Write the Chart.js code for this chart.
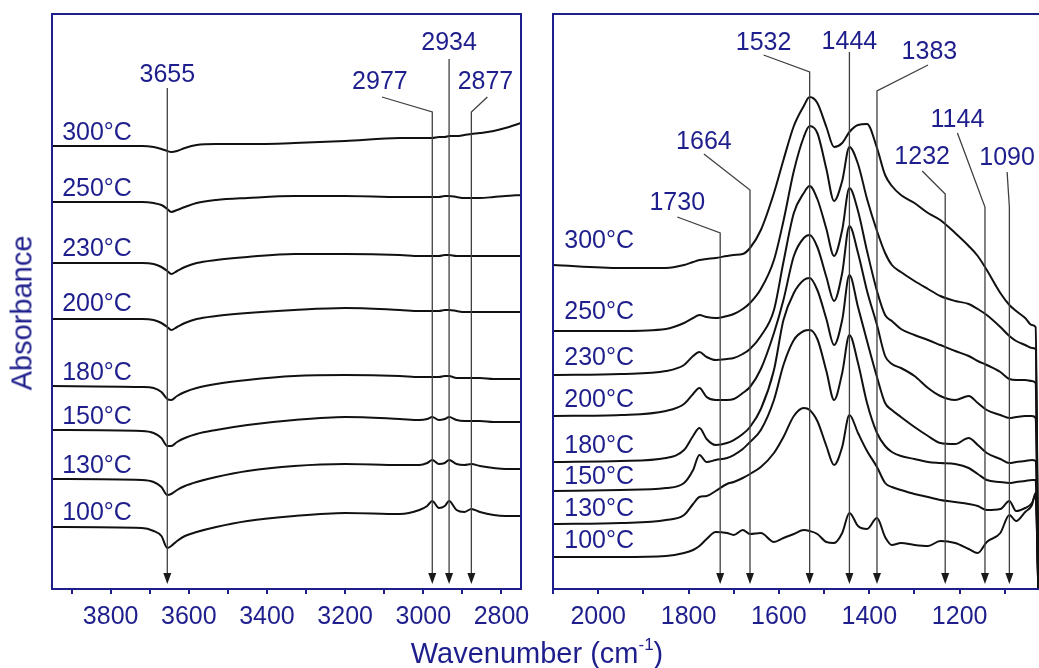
<!DOCTYPE html>
<html>
<head>
<meta charset="utf-8">
<script src="https://cdn.jsdelivr.net/npm/chart.js@4.4.0/dist/chart.umd.min.js"></script>
<style>
  html, body { margin: 0; padding: 0; background: #fff; overflow: hidden; }
  #wrap { position: relative; width: 1039px; height: 668px; overflow: hidden; }
  #left { position: absolute; left: 0; top: 0; }
  #right { position: absolute; left: 545px; top: 0; }
  .axt { position: absolute; color: #1e1e8c; font-family: Arial, "Liberation Sans", sans-serif;
         font-size: 29px; white-space: nowrap; line-height: 1; }
  .axt sup { font-size: 17px; vertical-align: 13px; }
</style>
</head>
<body>
<div id="wrap">
  <canvas id="left" width="545" height="668"></canvas>
  <canvas id="right" width="520" height="668"></canvas>
  <div class="axt" style="left:22px;top:313px;transform:translate(-50%,-50%) rotate(-90deg);">Absorbance</div>
  <div class="axt" style="left:537px;top:652px;transform:translate(-50%,-50%);">Wavenumber (cm<sup>-1</sup>)</div>
</div>
<script>
const NAVY = '#1e1e8c';
const temps = ['300°C', '250°C', '230°C', '200°C', '180°C', '150°C', '130°C', '100°C'];

// ---- left panel: O-H / C-H stretch region ----
const highTicks = [3900, 3800, 3700, 3600, 3500, 3400, 3300, 3200, 3100, 3000, 2900, 2800];
const highWn = [3950, 3720, 3690, 3670, 3655, 3645, 3630, 3610, 3580, 3530, 3450, 3330, 3200,
                3060, 3010, 2990, 2977, 2960, 2945, 2934, 2915, 2895, 2877, 2855, 2820, 2790, 2750];
const high300 = [4.43, 4.43, 4.42, 4.40, 4.38, 4.37, 4.38, 4.41, 4.44, 4.45, 4.45, 4.46, 4.48,
                 4.51, 4.51, 4.51, 4.51, 4.52, 4.52, 4.53, 4.53, 4.54, 4.55, 4.56, 4.58, 4.61, 4.66];
const high250 = [3.87, 3.87, 3.86, 3.84, 3.80, 3.77, 3.79, 3.82, 3.86, 3.89, 3.91, 3.93, 3.93,
                 3.92, 3.92, 3.92, 3.92, 3.92, 3.93, 3.93, 3.92, 3.91, 3.91, 3.91, 3.92, 3.93, 3.94];
const high230 = [3.26, 3.26, 3.25, 3.22, 3.18, 3.15, 3.18, 3.22, 3.26, 3.29, 3.32, 3.35, 3.35,
                 3.34, 3.33, 3.33, 3.33, 3.33, 3.34, 3.34, 3.33, 3.33, 3.33, 3.33, 3.33, 3.33, 3.33];
const high200 = [2.70, 2.70, 2.69, 2.66, 2.62, 2.59, 2.62, 2.66, 2.70, 2.73, 2.76, 2.79, 2.81,
                 2.79, 2.78, 2.78, 2.78, 2.78, 2.79, 2.79, 2.78, 2.77, 2.77, 2.77, 2.77, 2.77, 2.77];
const high180 = [2.03, 2.02, 2.01, 1.97, 1.90, 1.89, 1.93, 1.97, 2.01, 2.05, 2.09, 2.13, 2.14,
                 2.13, 2.12, 2.12, 2.12, 2.12, 2.13, 2.13, 2.11, 2.11, 2.11, 2.11, 2.10, 2.10, 2.10];
const high150 = [1.59, 1.58, 1.56, 1.51, 1.43, 1.43, 1.47, 1.51, 1.55, 1.59, 1.64, 1.69, 1.72,
                 1.70, 1.69, 1.70, 1.72, 1.69, 1.70, 1.72, 1.69, 1.68, 1.68, 1.68, 1.67, 1.67, 1.67];
const high130 = [1.10, 1.09, 1.07, 1.02, 0.94, 0.95, 0.99, 1.03, 1.07, 1.12, 1.18, 1.23, 1.25,
                 1.24, 1.24, 1.26, 1.29, 1.25, 1.26, 1.29, 1.25, 1.24, 1.25, 1.23, 1.21, 1.20, 1.20];
const high100 = [0.62, 0.61, 0.58, 0.53, 0.41, 0.43, 0.48, 0.53, 0.57, 0.62, 0.68, 0.73, 0.76,
                 0.75, 0.79, 0.83, 0.88, 0.81, 0.83, 0.88, 0.79, 0.77, 0.80, 0.77, 0.74, 0.73, 0.73];
const highSeries = [high300, high250, high230, high200, high180, high150, high130, high100];
const highPeaks = [3655, 2977, 2934, 2877];

// ---- right panel: fingerprint region ----
const lowTicks = [2100, 2000, 1900, 1800, 1700, 1600, 1500, 1400, 1300, 1200, 1100];
const lowWn = [2100, 1950, 1850, 1810, 1790, 1776, 1760, 1740, 1715, 1700, 1680, 1664, 1640, 1611,
               1590, 1567, 1545, 1532, 1515, 1495, 1478, 1460, 1444, 1425, 1405, 1383, 1365, 1350,
               1330, 1300, 1270, 1243, 1210, 1180, 1160, 1140, 1110, 1090, 1075, 1055, 1040, 1032, 1026];
const low300 = [3.24, 3.21, 3.21, 3.24, 3.27, 3.29, 3.30, 3.31, 3.33, 3.34, 3.35, 3.41, 3.59, 3.96,
                4.29, 4.63, 4.83, 4.92, 4.86, 4.62, 4.42, 4.46, 4.57, 4.64, 4.65, 4.41, 4.14, 4.03,
                3.94, 3.86, 3.76, 3.69, 3.56, 3.43, 3.33, 3.19, 2.96, 2.84, 2.78, 2.71, 2.64, 2.62, 0];
const low250 = [2.58, 2.58, 2.60, 2.66, 2.71, 2.74, 2.72, 2.71, 2.73, 2.75, 2.80, 2.86, 3.00, 3.29,
                3.68, 4.18, 4.52, 4.63, 4.56, 4.20, 3.88, 4.08, 4.42, 4.25, 3.90, 3.58, 3.36, 3.24,
                3.17, 3.08, 3.00, 2.93, 2.88, 2.85, 2.80, 2.74, 2.62, 2.53, 2.48, 2.44, 2.41, 2.40, 0];
const low230 = [2.14, 2.15, 2.18, 2.24, 2.33, 2.37, 2.32, 2.29, 2.30, 2.31, 2.35, 2.40, 2.53, 2.79,
                3.27, 3.76, 3.96, 4.03, 3.90, 3.60, 3.33, 3.59, 4.01, 3.78, 3.38, 2.98, 2.74, 2.68,
                2.60, 2.54, 2.49, 2.44, 2.38, 2.33, 2.28, 2.24, 2.17, 2.10, 2.09, 2.09, 2.08, 2.06, 0];
const low200 = [1.73, 1.74, 1.78, 1.85, 1.95, 2.01, 1.92, 1.89, 1.89, 1.90, 1.96, 2.02, 2.20, 2.56,
                2.89, 3.33, 3.51, 3.54, 3.42, 3.12, 2.88, 3.16, 3.63, 3.36, 2.98, 2.64, 2.33, 2.25,
                2.21, 2.13, 2.01, 1.93, 1.89, 1.93, 1.86, 1.79, 1.74, 1.71, 1.72, 1.73, 1.73, 1.71, 0];
const low180 = [1.27, 1.28, 1.31, 1.39, 1.53, 1.61, 1.50, 1.44, 1.46, 1.49, 1.55, 1.62, 1.80, 2.19,
                2.69, 2.96, 3.09, 3.11, 2.99, 2.70, 2.44, 2.69, 3.14, 2.82, 2.48, 2.12, 1.86, 1.79,
                1.72, 1.62, 1.53, 1.46, 1.45, 1.51, 1.44, 1.36, 1.30, 1.26, 1.27, 1.28, 1.29, 1.28, 0];
const low150 = [0.98, 0.99, 1.01, 1.06, 1.19, 1.34, 1.27, 1.29, 1.31, 1.34, 1.40, 1.47, 1.59, 1.89,
                2.24, 2.49, 2.58, 2.59, 2.50, 2.18, 1.89, 2.16, 2.54, 2.26, 1.86, 1.56, 1.43, 1.37,
                1.33, 1.30, 1.27, 1.26, 1.25, 1.21, 1.15, 1.09, 1.07, 1.06, 1.07, 1.08, 1.09, 1.09, 0];
const low130 = [0.65, 0.66, 0.69, 0.74, 0.85, 0.92, 0.93, 0.98, 1.05, 1.07, 1.11, 1.15, 1.22, 1.36,
                1.52, 1.73, 1.81, 1.79, 1.68, 1.43, 1.24, 1.42, 1.74, 1.56, 1.38, 1.22, 1.06, 1.02,
                0.99, 0.95, 0.92, 0.89, 0.87, 0.85, 0.83, 0.79, 0.80, 0.88, 0.78, 0.81, 0.86, 0.94, 0];
const low100 = [0.32, 0.32, 0.33, 0.36, 0.39, 0.43, 0.50, 0.57, 0.56, 0.54, 0.59, 0.55, 0.56, 0.47,
                0.51, 0.55, 0.59, 0.58, 0.55, 0.47, 0.46, 0.56, 0.76, 0.63, 0.60, 0.71, 0.52, 0.44,
                0.46, 0.44, 0.43, 0.48, 0.46, 0.40, 0.36, 0.47, 0.56, 0.74, 0.68, 0.77, 0.84, 0.96, 0];
const lowSeries = [low300, low250, low230, low200, low180, low150, low130, low100];
const lowPeaks = [1730, 1664, 1532, 1444, 1383, 1232, 1144, 1090];

// label / leader layout (wavenumber, absorbance units)
const ARROW_TIP = 0.05;
const highLayout = [
  { top: 5.01, tx: 3655, ty: 5.14 },
  { from: [3106, 4.92], top: 4.77, tx: 3111, ty: 5.07 },
  { top: 5.30, tx: 2934, ty: 5.46 },
  { from: [2836, 4.92], top: 4.77, tx: 2841, ty: 5.07 }
];
const lowLayout = [
  { from: [1825, 3.72], top: 3.56, tx: 1825, ty: 3.86 },
  { from: [1766, 4.35], top: 3.99, tx: 1766, ty: 4.47 },
  { from: [1634, 5.34], top: 5.17, tx: 1634, ty: 5.46 },
  { top: 5.37, tx: 1444, ty: 5.47 },
  { from: [1270, 5.24], top: 4.98, tx: 1267, ty: 5.37 },
  { from: [1283, 4.18], top: 3.95, tx: 1283, ty: 4.32 },
  { from: [1205, 4.56], top: 3.82, tx: 1205, ty: 4.69 },
  { from: [1095, 4.17], top: 3.82, tx: 1095, ty: 4.31 }
];
const highTempY = [4.56, 4.00, 3.40, 2.85, 2.16, 1.72, 1.23, 0.76];
const lowTempY = [3.48, 2.77, 2.31, 1.89, 1.43, 1.12, 0.80, 0.48];

Chart.defaults.font.family = 'Arial, "Liberation Sans", sans-serif';

const decor = {
  id: 'decor',
  afterDatasetsDraw(chart, args, opts) {
    const { ctx, chartArea: a, scales: { x, y } } = chart;
    ctx.save();
    ctx.strokeStyle = NAVY;
    ctx.lineWidth = 2;
    ctx.strokeRect(a.left, a.top, a.right - a.left, a.bottom - a.top);

    ctx.font = '25px Arial, "Liberation Sans", sans-serif';
    ctx.textBaseline = 'middle';
    opts.peaks.forEach((wn, i) => {
      const L = opts.layout[i];
      const px = x.getPixelForValue(wn);
      const tip = y.getPixelForValue(ARROW_TIP);
      ctx.strokeStyle = '#404040';
      ctx.lineWidth = 1.3;
      ctx.beginPath();
      if (L.from) {
        ctx.moveTo(x.getPixelForValue(L.from[0]), y.getPixelForValue(L.from[1]));
        ctx.lineTo(px, y.getPixelForValue(L.top));
      } else {
        ctx.moveTo(px, y.getPixelForValue(L.top));
      }
      ctx.lineTo(px, tip - 8);
      ctx.stroke();
      ctx.fillStyle = '#1a1a1a';
      ctx.beginPath();
      ctx.moveTo(px - 4, tip - 11);
      ctx.lineTo(px + 4, tip - 11);
      ctx.lineTo(px, tip);
      ctx.closePath();
      ctx.fill();
      ctx.fillStyle = NAVY;
      ctx.textAlign = 'center';
      ctx.fillText(String(wn), x.getPixelForValue(L.tx), y.getPixelForValue(L.ty));
    });

    ctx.textAlign = 'left';
    ctx.fillStyle = NAVY;
    temps.forEach((t, i) => {
      ctx.fillText(t, x.getPixelForValue(opts.tempX), y.getPixelForValue(opts.tempY[i]));
    });
    ctx.restore();
  }
};

function makeChart(id, wn, series, tickVals, xmin, xmax, pad, decorOpts) {
  return new Chart(document.getElementById(id), {
    type: 'line',
    data: {
      datasets: series.map((vals, i) => ({
        label: temps[i],
        data: wn.map((w, j) => ({ x: w, y: vals[j] })),
        borderColor: '#111',
        borderWidth: 2,
        pointRadius: 0,
        cubicInterpolationMode: 'monotone',
        fill: false
      }))
    },
    options: {
      responsive: false,
      animation: false,
      devicePixelRatio: 1,
      layout: { padding: pad },
      plugins: { legend: { display: false }, tooltip: { enabled: false }, decor: decorOpts },
      scales: {
        x: {
          type: 'linear',
          reverse: true,
          min: xmin,
          max: xmax,
          afterBuildTicks: (s) => { s.ticks = tickVals.map(v => ({ value: v })); },
          afterFit: (s) => { s.height = 70; },
          border: { display: true, color: NAVY, width: 2 },
          grid: { drawOnChartArea: false, drawTicks: true, tickLength: 5, color: NAVY, lineWidth: 2 },
          ticks: {
            autoSkip: false,
            maxRotation: 0,
            padding: 8,
            color: NAVY,
            font: { size: 25 },
            callback: (v) => (v % 200 === 0 ? String(v) : '')
          }
        },
        y: { display: false, min: 0, max: 5.75 }
      }
    },
    plugins: [decor]
  });
}

makeChart('left', highWn, highSeries, highTicks, 2750, 3950,
  { left: 52, right: 24, top: 14, bottom: 9 },
  { peaks: highPeaks, layout: highLayout, tempX: 3924, tempY: highTempY });
makeChart('right', lowWn, lowSeries, lowTicks, 1020, 2100,
  { left: 7, right: 24, top: 14, bottom: 9 },
  { peaks: lowPeaks, layout: lowLayout, tempX: 2075, tempY: lowTempY });
</script>
</body>
</html>
